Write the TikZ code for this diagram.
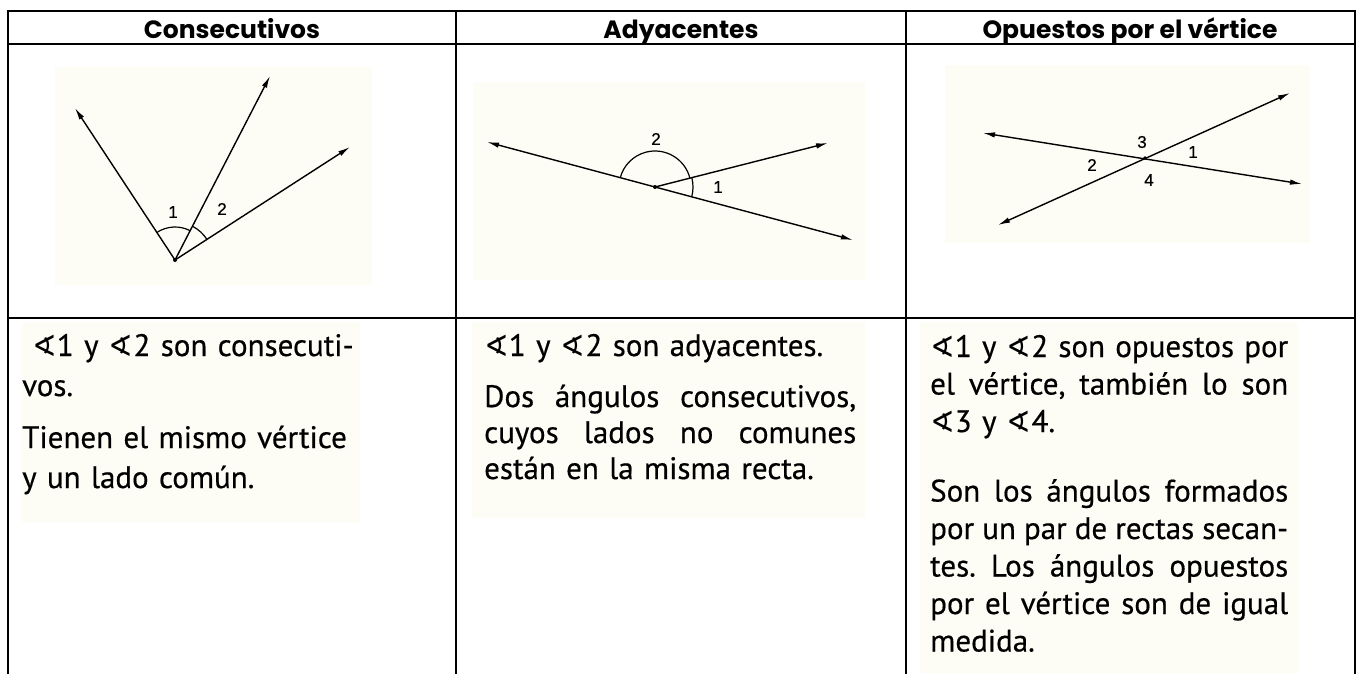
\documentclass[tikz,border=0pt]{standalone}
\usepackage{fontspec}
\setmainfont{PT Sans}[FakeBold=0.5]
\newfontfamily\headfont{Poppins}
\newfontfamily\numfont{Liberation Sans}[FakeBold=0.6]
\newfontfamily\symfont{DejaVu Sans}[Scale=0.95]
\usetikzlibrary{arrows.meta}
\definecolor{paper}{RGB}{253,253,246}
\newcommand{\ang}{{\symfont ∢}}
\newcommand{\jline}[2]{{\spaceskip=0pt\xspaceskip=0pt\makebox[#1][s]{#2}}}
\frenchspacing

\begin{document}
\begin{tikzpicture}[x=1pt,y=1pt,
        rule/.style={line width=2.6pt, line cap=rect, black},
        ray/.style={line width=1.4pt, -{Latex[length=12pt,width=5.5pt]}},
        biray/.style={line width=1.4pt, {Latex[length=12pt,width=5.5pt]}-{Latex[length=12pt,width=5.5pt]}},
        angarc/.style={line width=1.2pt},
        lbl/.style={inner sep=0pt, font=\numfont\fontsize{17}{17}\selectfont},
        head/.style={anchor=base, inner sep=0pt, font=\headfont\bfseries\fontsize{25}{25}\selectfont},
        body/.style={anchor=base west, inner sep=0pt, align=left},
        scan/.style={fill=paper, draw=none}]
        \useasboundingbox (0,0) rectangle (1356,-673);
        \fill [white] (0,0) rectangle (1356,-673);
        % scanned backgrounds
        \fill [scan] (55,-67) rectangle (372,-285);
        \fill [scan] (473,-82) rectangle (865,-280);
        \fill [scan] (945,-65) rectangle (1310,-243);
        \fill [scan] (22,-322) rectangle (360,-522);
        \fill [scan] (472,-322) rectangle (865,-518);
        \fill [scan] (920,-322) rectangle (1298,-673);
        % table
        \foreach \x in {8,456,906,1355}
                \draw [rule] (\x,-11) -- (\x,-680);
        \foreach \y in {-11,-44,-318}
                \draw [rule] (8,\y) -- (1355,\y);
        \node [head] (h1) at (232,-38) {Consecutivos};
        \node [head] (h2) at (681,-38) {Adyacentes};
        \node [head] (h3) at (1130,-38) {Opuestos por el vértice};
        % consecutivos
        \coordinate (v1) at (175,-260);
        \coordinate (p1) at (75,-108);
        \coordinate (q1) at (270,-76);
        \coordinate (r1) at (350,-147);
        \draw [ray] (v1) -- (p1);
        \draw [ray] (v1) -- (q1);
        \draw [ray] (v1) -- (r1);
        \draw [angarc] (v1) ++(123.3:33) arc (123.3:62.7:33);
        \draw [angarc] (v1) ++(62.7:38) arc (62.7:32.9:38);
        \fill (v1) circle (2);
        \node [lbl] (n11) at (173,-212) {1};
        \node [lbl] (n12) at (222,-209) {2};
        % adyacentes
        \coordinate (v2) at (655,-187);
        \coordinate (p2) at (487,-142);
        \coordinate (q2) at (853,-240);
        \coordinate (r2) at (828,-143);
        \draw [biray] (p2) -- (q2);
        \draw [ray] (v2) -- (r2);
        \draw [angarc] (v2) ++(14.3:36) arc (14.3:165:36);
        \draw [angarc] (v2) ++(-15:38) arc (-15:14.3:38);
        \fill (v2) circle (2);
        \node [lbl] (n22) at (656,-139) {2};
        \node [lbl] (n21) at (718,-187) {1};
        % opuestos por el vertice
        \coordinate (o3) at (1145,-158);
        \coordinate (a3) at (998,-225);
        \coordinate (b3) at (1290,-93);
        \coordinate (c3) at (983,-133);
        \coordinate (d3) at (1302,-184);
        \draw [biray] (a3) -- (b3);
        \draw [biray] (c3) -- (d3);
        \fill (o3) circle (1.8);
        \node [lbl] (n33) at (1142,-142) {3};
        \node [lbl] (n31) at (1193,-152) {1};
        \node [lbl] (n32) at (1092,-165) {2};
        \node [lbl] (n34) at (1149,-180) {4};
        % texts
        \node [body, text width=340pt, font=\fontsize{31}{40}\selectfont] (t1) at (22,-356)
                {\hspace*{10pt}\ang1 y \ang2 son consecuti-\\vos.\\[12pt]Tienen el mismo vértice\\y un lado común.};
        \node [body, text width=380pt, font=\fontsize{31}{36}\selectfont] (t2) at (484,-356)
                {\ang1 y \ang2 son adyacentes.\\[15pt]\jline{372pt}{Dos ángulos consecutivos,}\\\jline{372pt}{cuyos lados no comunes}\\están en la misma recta.};
        \node [body, text width=360pt, font=\fontsize{31}{37.5}\selectfont] (t3) at (930,-357)
                {\jline{358pt}{\ang1 y \ang2 son opuestos por}\\\jline{358pt}{el vértice, también lo son}\\\ang3 y \ang4.\\[32pt]\jline{358pt}{Son los ángulos formados}\\\jline{358pt}{por un par de rectas secan-}\\\jline{358pt}{tes. Los ángulos opuestos}\\\jline{358pt}{por el vértice son de igual}\\medida.};
\end{tikzpicture}
\end{document}
